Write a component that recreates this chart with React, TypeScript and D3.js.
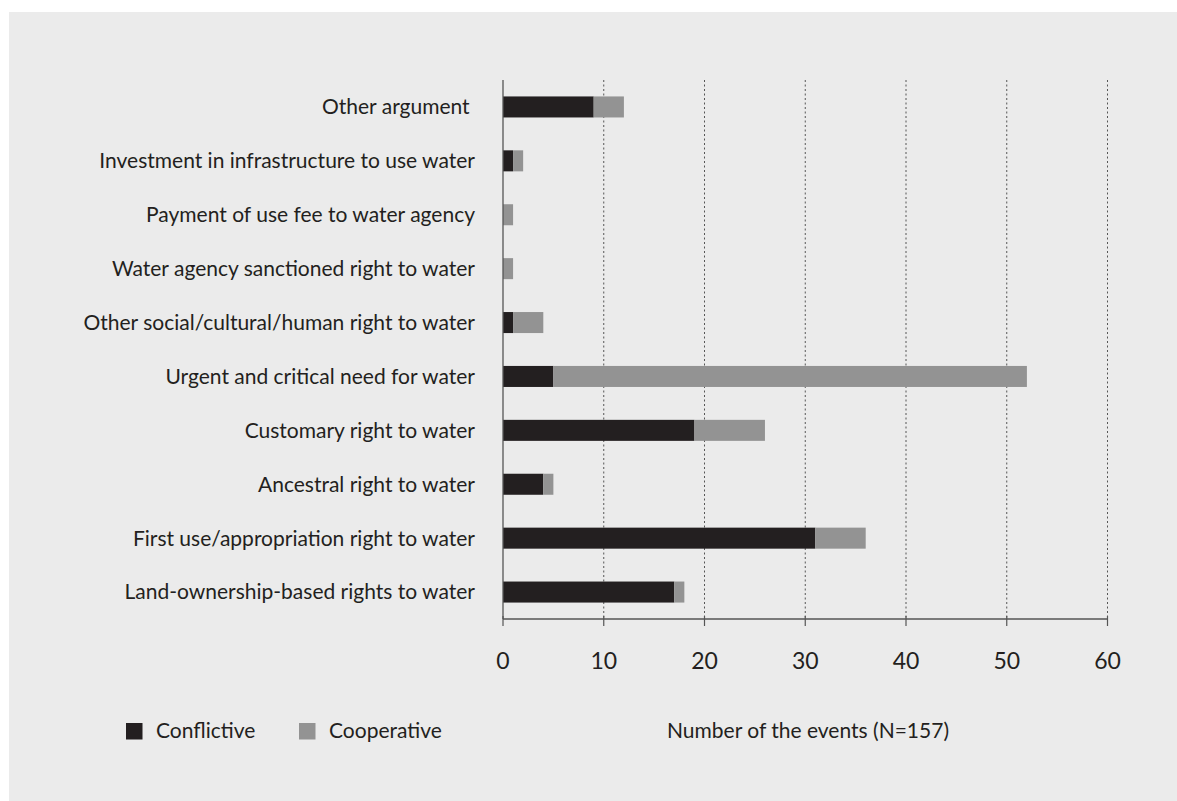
import React from "react";
import * as d3 from "d3";

const categories = [
  "Other argument ",
  "Investment in infrastructure to use water",
  "Payment of use fee to water agency",
  "Water agency sanctioned right to water",
  "Other social/cultural/human right to water",
  "Urgent and critical need for water",
  "Customary right to water",
  "Ancestral right to water",
  "First use/appropriation right to water",
  "Land-ownership-based rights to water",
];
const conflictive = [9, 1, 0, 0, 1, 5, 19, 4, 31, 17];
const cooperative = [3, 1, 1, 1, 3, 47, 7, 1, 5, 1];
const xTicks = [0, 10, 20, 30, 40, 50, 60];
const seriesNames = ["Conflictive", "Cooperative"];
const axisTitle = "Number of the events (N=157)";

const W = 1177;
const H = 801;
const BG = "#ebebeb";
const DARK = "#231f20";
const GREY = "#939393";
const AXIS = "#555555";
const FONT = "Lato, 'Open Sans', sans-serif";

export default function App() {
  const x = d3.scaleLinear().domain([0, 60]).range([503, 1107.5]);
  const y = d3
    .scaleBand<string>()
    .domain(categories)
    .range([80, 619])
    .paddingInner(0.61)
    .paddingOuter(0.305);
  const axisY = 619;
  const bw = y.bandwidth();

  return (
    <svg
      width={W}
      height={H}
      style={{ position: "absolute", left: 0, top: 0, display: "block" }}
      fontFamily={FONT}
    >
      <rect x={0} y={0} width={W} height={H} fill="#ffffff" />
      <rect x={9} y={12} width={W - 9} height={H - 12} fill={BG} />

      {/* gridlines */}
      {xTicks
        .filter((t) => t > 0)
        .map((t) => (
          <line
            key={"g" + t}
            x1={x(t)}
            x2={x(t)}
            y1={80}
            y2={axisY}
            stroke={AXIS}
            strokeWidth={1}
            strokeDasharray="2,2.5"
          />
        ))}

      {/* bars */}
      {categories.map((c, i) => {
        const yy = y(c)!;
        return (
          <g key={c}>
            {conflictive[i] > 0 && (
              <rect
                x={x(0)}
                y={yy}
                width={x(conflictive[i]) - x(0)}
                height={bw}
                fill={DARK}
              />
            )}
            {cooperative[i] > 0 && (
              <rect
                x={x(conflictive[i])}
                y={yy}
                width={x(conflictive[i] + cooperative[i]) - x(conflictive[i])}
                height={bw}
                fill={GREY}
              />
            )}
            <text
              x={475}
              y={yy + bw / 2}
              dy="0.35em"
              textAnchor="end"
              fontSize={21}
              fill={DARK}
              style={{ whiteSpace: "pre" }}
            >
              {c}
            </text>
          </g>
        );
      })}

      {/* vertical axis line */}
      <line x1={x(0)} x2={x(0)} y1={80} y2={axisY} stroke={AXIS} strokeWidth={1.3} />

      {/* x axis */}
      <line x1={x(0)} x2={x(60)} y1={axisY} y2={axisY} stroke={AXIS} strokeWidth={1.5} />
      {xTicks.map((t) => (
        <g key={"t" + t}>
          <line x1={x(t)} x2={x(t)} y1={axisY - 3} y2={axisY + 7} stroke={AXIS} strokeWidth={1.2} />
          <text
            x={x(t)}
            y={669}
            textAnchor="middle"
            fontSize={23}
            fill={DARK}
          >
            {t}
          </text>
        </g>
      ))}

      {/* legend */}
      <rect x={126} y={723} width={16.5} height={16.5} fill={DARK} />
      <text x={156} y={738} fontSize={21} fill={DARK}>
        {seriesNames[0]}
      </text>
      <rect x={299} y={723} width={16.5} height={16.5} fill={GREY} />
      <text x={329} y={738} fontSize={21} fill={DARK}>
        {seriesNames[1]}
      </text>

      {/* axis title */}
      <text x={808} y={738} textAnchor="middle" fontSize={21} fill={DARK}>
        {axisTitle}
      </text>
    </svg>
  );
}
